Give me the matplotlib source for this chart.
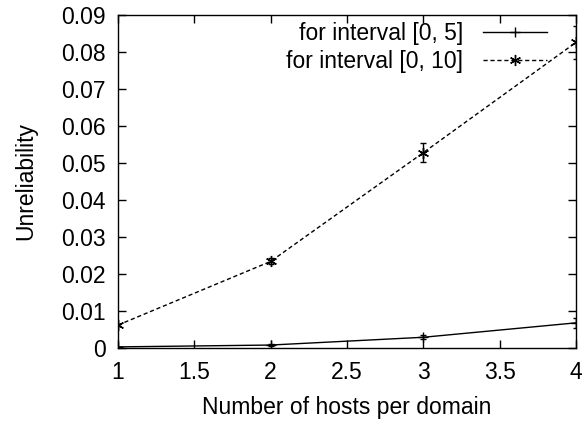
import matplotlib
matplotlib.use("Agg")
import matplotlib.pyplot as plt
from matplotlib.lines import Line2D

plt.rcParams['font.family'] = ['Liberation Sans', 'DejaVu Sans']

hosts = [1, 2, 3, 4]
unrel_5 = [0.0003, 0.0008, 0.0029, 0.0068]
err_5 = [0.0001, 0.0002, 0.0005, 0.0013]
unrel_10 = [0.0062, 0.0234, 0.0528, 0.0826]
err_10 = [0.0003, 0.0008, 0.0025, 0.0045]
labels = ['for interval [0, 5]', 'for interval [0, 10]']
xticks = [1, 1.5, 2, 2.5, 3, 3.5, 4]
xticklabels = ['1', '1.5', '2', '2.5', '3', '3.5', '4']
yticks = [0, 0.01, 0.02, 0.03, 0.04, 0.05, 0.06, 0.07, 0.08, 0.09]
yticklabels = ['0', '0.01', '0.02', '0.03', '0.04', '0.05', '0.06', '0.07', '0.08', '0.09']

FS = 16.5
W, H = 588, 423
L, R, T, B = 118, 576, 15, 348

fig = plt.figure(figsize=(W/100, H/100), dpi=100)
ax = fig.add_axes([L/W, (H-B)/H, (R-L)/W, (B-T)/H])

star = (6, 2, 0)
ax.errorbar(hosts, unrel_5, yerr=err_5, color='black', lw=1.0, marker='+',
            markersize=7, mew=1.0, capsize=2.5, elinewidth=1.0)
ax.errorbar(hosts, unrel_10, yerr=err_10, color='black', lw=1.0, ls=(0, (3, 2)),
            marker=star, markersize=8, mew=1.0, capsize=2.5, elinewidth=1.0)

ax.set_xlim(1, 4)
ax.set_ylim(0, 0.09)
ax.set_xticks(xticks)
ax.set_xticklabels(xticklabels)
ax.set_yticks(yticks)
ax.set_yticklabels(yticklabels)
ax.tick_params(direction='in', length=6, width=1, top=True, right=True,
               labelsize=FS, pad=9)
for s in ax.spines.values():
    s.set_linewidth(1.0)
ax.set_xlabel('Number of hosts per domain', fontsize=FS, labelpad=9)
ax.set_ylabel('Unreliability', fontsize=FS, labelpad=17)

handles = [
    Line2D([], [], color='black', lw=1.0, marker='+', markersize=7, mew=1.0),
    Line2D([], [], color='black', lw=1.0, ls=(0, (3, 2)), marker=star,
           markersize=8, mew=1.0),
]
leg = ax.legend(handles, labels, loc='upper right',
                bbox_to_anchor=((547-L)/(R-L), (B-22)/(B-T)),
                frameon=False, markerfirst=False, fontsize=FS, numpoints=1,
                handlelength=2.8, borderaxespad=0, borderpad=0,
                labelspacing=0.2, handletextpad=0.87)
for t in leg.get_texts():
    t.set_ha('right')

fig.savefig('out.png', dpi=100)
